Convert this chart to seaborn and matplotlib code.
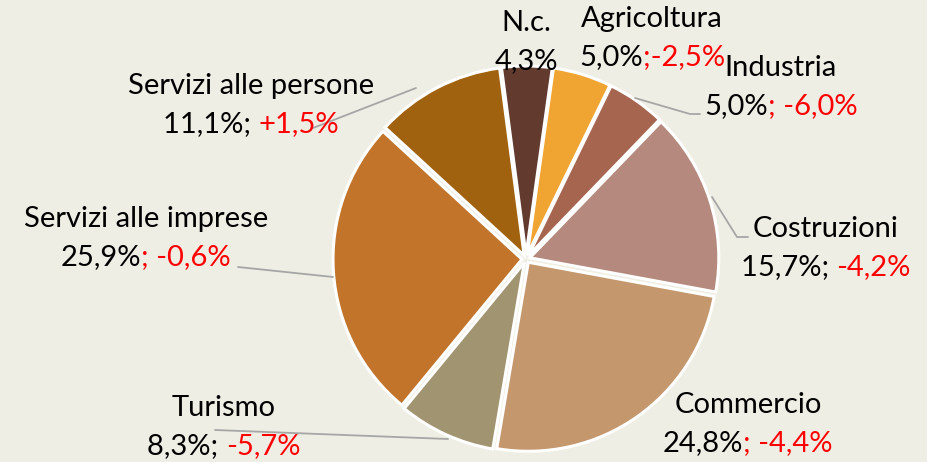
import matplotlib
matplotlib.use("Agg")
import matplotlib.pyplot as plt
import seaborn as sns
from matplotlib.offsetbox import TextArea, HPacker, VPacker, AnnotationBbox

# Data
sectors = ["Agricoltura", "Industria", "Costruzioni", "Commercio", "Turismo",
           "Servizi alle imprese", "Servizi alle persone", "N.c."]
shares = [5.0, 5.0, 15.7, 24.8, 8.3, 25.9, 11.1, 4.3]
share_text = ["5,0%", "5,0%", "15,7%; ", "24,8%", "8,3%; ", "25,9%", "11,1%; ", "4,3%"]
change_text = [";-2,5%", "; -6,0%", "-4,2%", "; -4,4%", "-5,7%", "; -0,6%", "+1,5%", ""]
colors = ["#F0A431", "#A5654F", "#B5897D", "#C4976D", "#A19471",
          "#C1742A", "#A0620F", "#623A2E"]

BG = "#EFEEE4"
W, H = 927, 462

sns.set_theme(style="white")
plt.rcParams["font.family"] = ["Lato", "DejaVu Sans"]

fig = plt.figure(figsize=(W / 100, H / 100), dpi=100, facecolor=BG)
ax = fig.add_axes([0, 0, 1, 1])
ax.set_facecolor(BG)

center = (526, H - 259)
ax.pie(shares, colors=colors, startangle=82, counterclock=False,
       radius=189, center=center, explode=[4] * len(shares),
       wedgeprops=dict(edgecolor="white", linewidth=2.2))

ax.set_xlim(0, W)
ax.set_ylim(0, H)
ax.set_aspect("auto")
ax.axis("off")

# label block centers (image pixel coordinates)
label_pos = [(652, 38), (781, 87), (826, 248), (748, 424), (224, 427),
             (146, 238), (251, 105), (526, 42)]

# leader lines (image pixel coordinates)
leaders = {
    "Industria": [(635, 98), (690, 114), (700, 114)],
    "Costruzioni": [(712, 197), (737, 237), (748, 237)],
    "Servizi alle persone": [(416, 88), (313, 128)],
    "Servizi alle imprese": [(238, 267), (333, 277)],
    "Turismo": [(215, 430), (448, 439)],
}
for name, pts in leaders.items():
    xs = [p[0] for p in pts]
    ys = [H - p[1] for p in pts]
    ax.plot(xs, ys, color="#A6A6A6", lw=1.3, zorder=1)

fs = 21
for name, st, ct, (px, py) in zip(sectors, share_text, change_text, label_pos):
    line1 = TextArea(name, textprops=dict(color="black", fontsize=fs))
    parts = [TextArea(st, textprops=dict(color="black", fontsize=fs))]
    if ct:
        parts.append(TextArea(ct, textprops=dict(color="red", fontsize=fs)))
    line2 = HPacker(children=parts, align="baseline", pad=0, sep=0)
    box = VPacker(children=[line1, line2], align="center", pad=0, sep=8)
    ab = AnnotationBbox(box, (px, H - py), frameon=False,
                        box_alignment=(0.5, 0.5), zorder=3)
    ax.add_artist(ab)

fig.savefig("out.png", dpi=100, facecolor=BG)
